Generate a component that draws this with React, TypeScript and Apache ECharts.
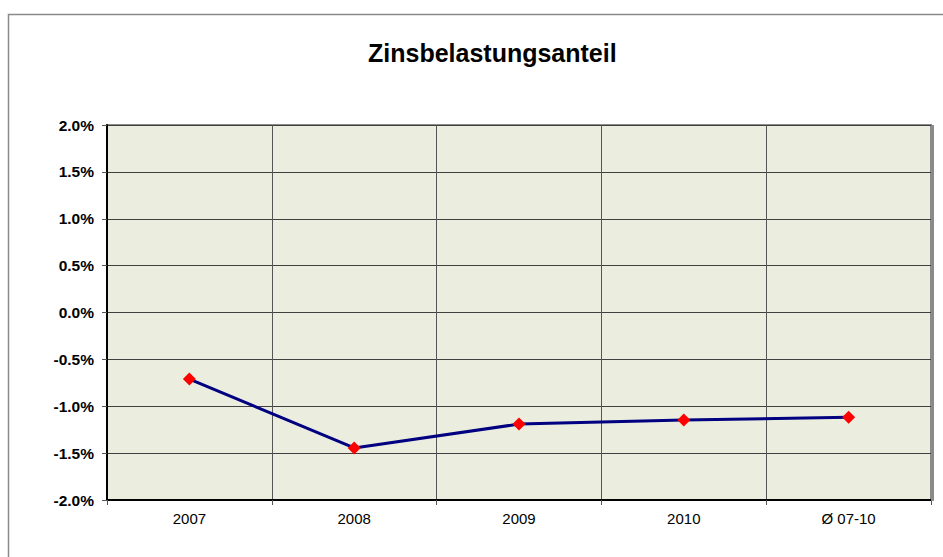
import React, { useEffect, useRef } from "react";
import * as echarts from "echarts";

const categories = ["2007", "2008", "2009", "2010", "Ø 07-10"];
const values = [-0.71, -1.445, -1.19, -1.147, -1.118];
const titleText = "Zinsbelastungsanteil";
const yMin = -2;
const yMax = 2;
const yStep = 0.5;

export default function App() {
  const ref = useRef<HTMLDivElement>(null);
  useEffect(() => {
    if (!ref.current) return;
    const chart = echarts.init(ref.current, null, { renderer: "svg" });
    chart.setOption({
      animation: false,
      backgroundColor: "#ffffff",
      title: {
        text: titleText,
        left: 363,
        top: 35,
        textStyle: { fontFamily: "Arial, 'Liberation Sans'", fontSize: 25, fontWeight: "bold", color: "#000" },
      },
      graphic: [
        {
          type: "rect",
          shape: { x: 8.5, y: 14.5, width: 1200, height: 1200 },
          style: { fill: "none", stroke: "#8a8a8a", lineWidth: 1.5 },
          silent: true,
          z: 0,
        },
        {
          type: "line",
          shape: { x1: 932.5, y1: 125, x2: 932.5, y2: 501 },
          style: { stroke: "#8a8a8a", lineWidth: 3 },
          silent: true,
          z: 1,
        },
      ],
      grid: {
        left: 107,
        top: 125,
        right: 12,
        bottom: 57,
        show: true,
        backgroundColor: "#EBEEDF",
        borderColor: "#8a8a8a",
        borderWidth: 2,
      },
      xAxis: {
        type: "category",
        data: categories,
        boundaryGap: true,
        axisLine: { show: true, onZero: false, lineStyle: { color: "#000", width: 2 } },
        axisTick: { show: true, length: 5, lineStyle: { color: "#555", width: 1 } },
        axisLabel: { color: "#000", fontSize: 15, fontFamily: "Arial, 'Liberation Sans'", margin: 11 },
        splitLine: { show: true, lineStyle: { color: "#555", width: 1 } },
      },
      yAxis: {
        type: "value",
        min: yMin,
        max: yMax,
        interval: yStep,
        axisLine: { show: true, onZero: false, lineStyle: { color: "#000", width: 2 } },
        axisTick: { show: true, length: 5, lineStyle: { color: "#555", width: 1 } },
        axisLabel: {
          color: "#000",
          fontSize: 15.5,
          fontWeight: "bold",
          fontFamily: "Arial, 'Liberation Sans'",
          margin: 13,
          formatter: (v: number) => v.toFixed(1) + "%",
        },
        splitLine: { show: true, lineStyle: { color: "#404040", width: 1 } },
      },
      series: [
        {
          type: "line",
          data: values,
          lineStyle: { color: "#000080", width: 3 },
          itemStyle: { color: "#ff0000" },
          symbol: "diamond",
          symbolSize: 13,
          z: 5,
        },
      ],
    });
    return () => chart.dispose();
  }, []);
  return (
    <div
      ref={ref}
      style={{ position: "fixed", left: 0, top: 0, width: 943, height: 557 }}
    />
  );
}
